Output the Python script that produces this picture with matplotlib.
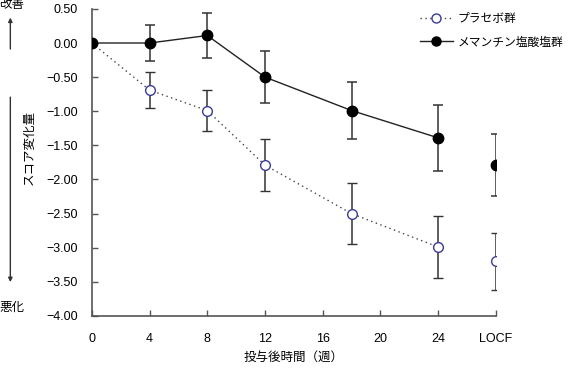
import numpy as np
from matplotlib import pyplot as plt
from matplotlib.lines import Line2D

plt.rcParams['font.family'] = ['Liberation Sans', 'Noto Sans CJK JP', 'DejaVu Sans']
plt.rcParams['font.size'] = 9

weeks = [0, 4, 8, 12, 18, 24]
locf_pos = 28
xtick_pos = [0, 4, 8, 12, 16, 20, 24, 28]
xtick_labels = ['0', '4', '8', '12', '16', '20', '24', 'LOCF']

placebo = [0.0, -0.69, -0.99, -1.79, -2.50, -2.99]
placebo_err = [0.0, 0.26, 0.30, 0.38, 0.45, 0.46]
placebo_locf = -3.20
placebo_locf_err = 0.42

memantine = [0.0, 0.0, 0.11, -0.50, -0.99, -1.39]
memantine_err = [0.0, 0.27, 0.33, 0.38, 0.42, 0.48]
memantine_locf = -1.79
memantine_locf_err = 0.45

fig = plt.figure(figsize=(5.74, 3.70), dpi=100)
ax = fig.add_axes([0.160, 0.146, 0.704, 0.830])

err_kw = dict(ecolor='#333333', elinewidth=1.1, capsize=3.5, capthick=1.1)
placebo_style = dict(marker='o', markersize=7, markerfacecolor='white',
                     markeredgecolor='#3a3a9a', markeredgewidth=1.0)
memantine_style = dict(marker='o', markersize=7.5, markerfacecolor='black',
                       markeredgecolor='black')

ax.errorbar(weeks, placebo, yerr=placebo_err, color='#444444', linestyle=(0, (1, 2.5)),
            linewidth=1.0, zorder=3, **placebo_style, **err_kw)
ax.errorbar([locf_pos], [placebo_locf], yerr=[placebo_locf_err], linestyle='none',
            zorder=3, **placebo_style, **err_kw)

ax.errorbar(weeks, memantine, yerr=memantine_err, color='#222222', linestyle='-',
            linewidth=1.0, zorder=4, **memantine_style, **err_kw)
ax.errorbar([locf_pos], [memantine_locf], yerr=[memantine_locf_err], linestyle='none',
            zorder=4, **memantine_style, **err_kw)

ax.set_xlim(0, 28)
ax.set_ylim(-4.0, 0.5)
ax.set_xticks(xtick_pos)
ax.set_xticklabels(xtick_labels)
yticks = np.arange(-4.0, 0.51, 0.5)
ax.set_yticks(yticks)
ax.set_yticklabels([f'{v:.2f}'.replace('-', '\u2212') for v in yticks])
for side in ['top', 'right']:
    ax.spines[side].set_visible(False)
for side in ['left', 'bottom']:
    ax.spines[side].set_color('#555555')
    ax.spines[side].set_linewidth(1.2)
ax.tick_params(axis='both', direction='in', length=4, width=1.0, color='#555555', pad=10)
ax.tick_params(axis='x', pad=12)

ax.set_xlabel('投与後時間（週）', labelpad=5)
ax.set_ylabel('スコア変化量')
ax.yaxis.set_label_coords(-0.138, 0.55)

handles = [
    Line2D([], [], color='#444444', linestyle=(0, (1, 2.5)), linewidth=1.0,
           **{**placebo_style, 'markersize': 6.5}),
    Line2D([], [], color='#222222', linestyle='-', linewidth=1.0,
           **{**memantine_style, 'markersize': 6.5}),
]
ax.legend(handles, ['プラセボ群', 'メマンチン塩酸塩群'], loc='upper left',
          bbox_to_anchor=(0.785, 1.02), frameon=False,
          handlelength=2.8, handletextpad=0.4, labelspacing=0.95, fontsize=8.5)

# improvement / worsening arrows
fig.text(0.021, 0.987, '改善', ha='center', va='center')
fig.text(0.021, 0.168, '悪化', ha='center', va='center')
ax.annotate('', xy=(0.018, 0.960), xytext=(0.018, 0.860), xycoords='figure fraction',
            arrowprops=dict(arrowstyle='-|>', color='#333333', lw=1.0, mutation_scale=6))
ax.annotate('', xy=(0.018, 0.230), xytext=(0.018, 0.745), xycoords='figure fraction',
            arrowprops=dict(arrowstyle='-|>', color='#333333', lw=1.0, mutation_scale=6))

plt.savefig('out.png', dpi=100)
